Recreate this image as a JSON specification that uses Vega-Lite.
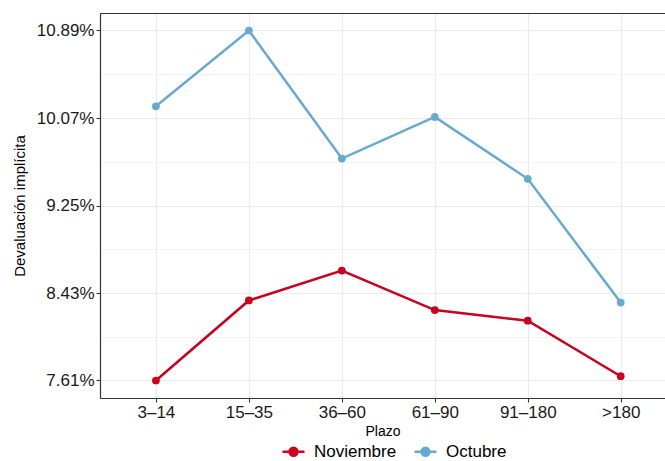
{
  "$schema": "https://vega.github.io/schema/vega-lite/v6.json",
  "width": 565,
  "height": 385,
  "autosize": {"type": "none"},
  "padding": {"left": 100, "top": 13, "right": 0, "bottom": 63},
  "background": "white",
  "config": {
    "view": {"stroke": null},
    "font": "Liberation Sans",
    "axis": {
      "labelFont": "Liberation Sans",
      "titleFont": "Liberation Sans",
      "labelColor": "#1a1a1a",
      "titleColor": "#000000",
      "titleFontWeight": "normal",
      "tickColor": "#333333",
      "domainColor": "#333333",
      "gridColor": "#ebebeb"
    }
  },
  "data": {
    "values": [
      {"plazo": "3–14", "mes": "Octubre", "devaluacion": 10.18},
      {"plazo": "15–35", "mes": "Octubre", "devaluacion": 10.89},
      {"plazo": "36–60", "mes": "Octubre", "devaluacion": 9.69},
      {"plazo": "61–90", "mes": "Octubre", "devaluacion": 10.08},
      {"plazo": "91–180", "mes": "Octubre", "devaluacion": 9.50},
      {"plazo": ">180", "mes": "Octubre", "devaluacion": 8.34},
      {"plazo": "3–14", "mes": "Noviembre", "devaluacion": 7.61},
      {"plazo": "15–35", "mes": "Noviembre", "devaluacion": 8.36},
      {"plazo": "36–60", "mes": "Noviembre", "devaluacion": 8.64},
      {"plazo": "61–90", "mes": "Noviembre", "devaluacion": 8.27},
      {"plazo": "91–180", "mes": "Noviembre", "devaluacion": 8.17},
      {"plazo": ">180", "mes": "Noviembre", "devaluacion": 7.65}
    ]
  },
  "layer": [
    {
      "mark": {"type": "point", "opacity": 0},
      "encoding": {
        "x": {
          "field": "plazo", "type": "ordinal",
          "sort": ["3–14", "15–35", "36–60", "61–90", "91–180", ">180"],
          "axis": {"orient": "top", "labels": false, "ticks": false, "domain": true, "grid": false, "title": null, "domainWidth": 1.2}
        },
        "y": {
          "field": "devaluacion", "type": "quantitative",
          "axis": {"orient": "right", "values": [8.02, 8.84, 9.66, 10.48], "labels": false, "ticks": false, "domain": false, "grid": true, "gridWidth": 0.6, "title": null}
        }
      }
    },
    {
      "mark": {"type": "line", "strokeWidth": 2.5, "point": {"filled": true, "size": 60, "opacity": 1}},
      "encoding": {
        "x": {
          "field": "plazo", "type": "ordinal",
          "sort": ["3–14", "15–35", "36–60", "61–90", "91–180", ">180"],
          "scale": {"type": "point", "padding": 0.539, "align": 0.558},
          "axis": {
            "orient": "bottom", "title": "Plazo", "labelAngle": 0,
            "labelFontSize": 17, "titleFontSize": 14, "titlePadding": 4,
            "tickSize": 4, "tickWidth": 1.1, "labelPadding": 2,
            "domainWidth": 1.2, "grid": true, "gridWidth": 1.2
          }
        },
        "y": {
          "field": "devaluacion", "type": "quantitative",
          "scale": {"domain": [7.446, 11.054], "nice": false, "zero": false},
          "axis": {
            "orient": "left", "title": "Devaluación implícita",
            "values": [7.61, 8.43, 9.25, 10.07, 10.89],
            "labelExpr": "format(datum.value, '.2f') + '%'",
            "labelFontSize": 17, "titleFontSize": 15, "titlePadding": 9,
            "tickSize": 4, "tickWidth": 1.1, "labelPadding": 2,
            "domainWidth": 1.2, "grid": true, "gridWidth": 1.2
          }
        },
        "color": {
          "field": "mes", "type": "nominal",
          "scale": {"domain": ["Noviembre", "Octubre"], "range": ["#ca0020", "#67a9cf"]},
          "legend": {
            "title": null,
            "orient": "none",
            "direction": "horizontal",
            "legendX": 181,
            "legendY": 426,
            "labelFontSize": 17,
            "labelColor": "#000000",
            "labelFont": "Liberation Sans",
            "symbolType": "M-1,0L1,0M0.36,0A0.36,0.36,0,1,1,-0.36,0A0.36,0.36,0,1,1,0.36,0",
            "symbolSize": 484,
            "symbolStrokeWidth": 2.5,
            "labelOffset": 8,
            "columnPadding": 12,
            "encode": {
              "symbols": {
                "update": {
                  "fill": {"scale": "color", "field": "value"},
                  "stroke": {"scale": "color", "field": "value"},
                  "opacity": {"value": 1}
                }
              }
            }
          }
        }
      }
    }
  ],
  "resolve": {"axis": {"x": "independent", "y": "independent"}}
}
